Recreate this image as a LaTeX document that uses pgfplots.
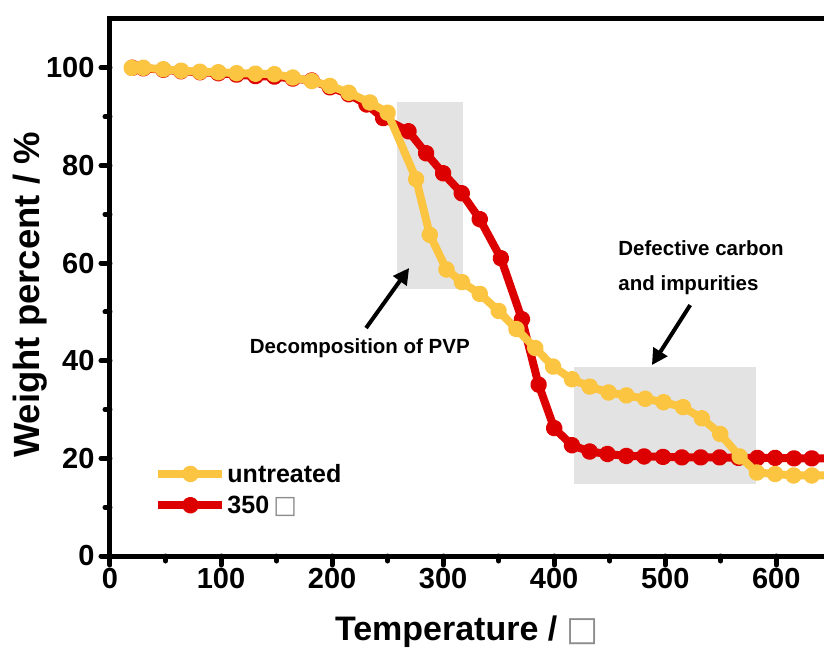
\documentclass[border=0pt]{standalone}
\usepackage{fontspec}
\setmainfont{Liberation Sans}
\newfontfamily\symfont{DejaVu Sans}
\usepackage{pgfplots}
\pgfplotsset{compat=1.18}
\usetikzlibrary{calc,arrows.meta}
\definecolor{cYel}{HTML}{FBC441}
\definecolor{cRed}{HTML}{DD0000}
\definecolor{cBox}{HTML}{E3E3E3}
\newcommand{\degbox}{{\symfont\mdseries\color{black!45}□}}

\begin{document}
\begin{tikzpicture}
\begin{axis}[
  scale only axis, width=714pt, height=537pt,
  xmin=0, xmax=643, ymin=0, ymax=110,
  axis lines*=left, axis line style={line width=5pt},
  clip mode=individual,
  xtick={0,100,...,600}, ytick={0,20,...,100},
  minor xtick={50,150,...,550}, minor ytick={10,30,...,90},
  tick align=outside, major tick length=9pt, minor tick length=5pt,
  tick style={black, line width=5pt, line cap=round},
  /pgf/number format/assume math mode=true,
  tick label style={font=\fontsize{29}{32}\selectfont\bfseries},
  yticklabel style={xshift=-3pt},
  xlabel={Temperature / \degbox}, ylabel={Weight percent / \%},
  xlabel style={font=\fontsize{34}{38}\selectfont\bfseries, at={(axis description cs:0.5,0)}, anchor=base, yshift=-84pt},
  ylabel style={font=\fontsize{36.5}{40}\selectfont\bfseries, at={(axis description cs:-0.112,0.486)}, anchor=center},
  legend image code/.code={\draw[mark repeat=2,mark phase=2,#1] plot coordinates {(0pt,0pt) (32pt,0pt) (64pt,0pt)};},
  legend style={draw=none, fill=none, inner sep=0pt, at={(axis description cs:0.062,0.124)}, anchor=west,
    font=\fontsize{25}{28}\selectfont\bfseries, nodes={inner sep=1pt}, row sep=10pt},
  legend cell align=left, reverse legend,
  every axis plot/.append style={line width=8pt, line join=round, mark=*, mark size=4.4pt},
]
\coordinate (ll) at (rel axis cs:0,0);
\coordinate (ur) at (rel axis cs:1,1);
\fill[cBox] (axis cs:258.3,54.7) rectangle (axis cs:318.2,93.1);
\fill[cBox] (axis cs:418,14.75) rectangle (axis cs:582,38.8);

\addplot[cRed, mark options={draw=none, fill=cRed}] coordinates {
(20,100) (30,99.9) (48,99.6) (64,99.3) (81,99.1) (97.6,98.9) (114,98.6) (131,98.3)
(148,98.2) (164.6,97.8) (181.7,97.4) (198,96.0) (215,94.6) (231,92.5) (246,89.7)
(268.8,87.0) (284.7,82.5) (300,78.4) (316.8,74.3) (333,69.0) (352,61.0) (371,48.5)
(386,35.1) (400,26.2) (416,22.7) (432,21.4) (448,20.9) (465,20.5) (481,20.4)
(498,20.3) (515,20.2) (532,20.2) (549,20.2) (566,20.1) (583,20.1) (599,20.1)
(616,20.0) (632,20.0) (648,20.0)};
\addlegendentry{350\,\degbox}

\addplot[cYel, mark options={draw=none, fill=cYel}] coordinates {
(19.5,100) (30,100) (48,99.7) (64,99.4) (81,99.2) (97.6,99.1) (114,98.9) (131,98.8)
(148,98.7) (164.6,98.0) (181.7,97.3) (198,96.3) (215,94.9) (234,92.9) (250,90.8)
(275.7,77.2) (288,65.8) (303,58.7) (317,56.1) (333,53.7) (350,50.2) (366,46.5)
(383,42.6) (399,38.8) (416,36.2) (432,34.7) (449,33.5) (465,32.9) (482,32.2)
(498.5,31.5) (516,30.5) (533,28.2) (549.5,25.0) (567,20.4) (582.6,17.1) (599,16.8)
(615.6,16.5) (632,16.5) (648,16.5)};
\addlegendentry{untreated}

\draw[line width=5pt, shorten <=-2.5pt] (rel axis cs:0,1) -- (rel axis cs:1,1);
\draw[line width=4pt, -{Triangle[length=16pt,width=16pt]}] (axis cs:230.6,46.7) -- (axis cs:269.4,59.0);
\draw[line width=4pt, -{Triangle[length=16pt,width=16pt]}] (axis cs:522.5,51.4) -- (axis cs:488,39.1);
\node[font=\fontsize{20.5}{24}\selectfont\bfseries] at (axis cs:225,42.6) {Decomposition of PVP};
\node[font=\fontsize{20.5}{35}\selectfont\bfseries, anchor=west, align=left, inner sep=0pt]
  at (axis cs:457.7,59.1) {Defective carbon\\and impurities};
\end{axis}
\pgfresetboundingbox
\path[use as bounding box] ($(ll)+(-110pt,-95pt)$) rectangle ($(ur)+(0pt,19pt)$);
\end{tikzpicture}
\end{document}
